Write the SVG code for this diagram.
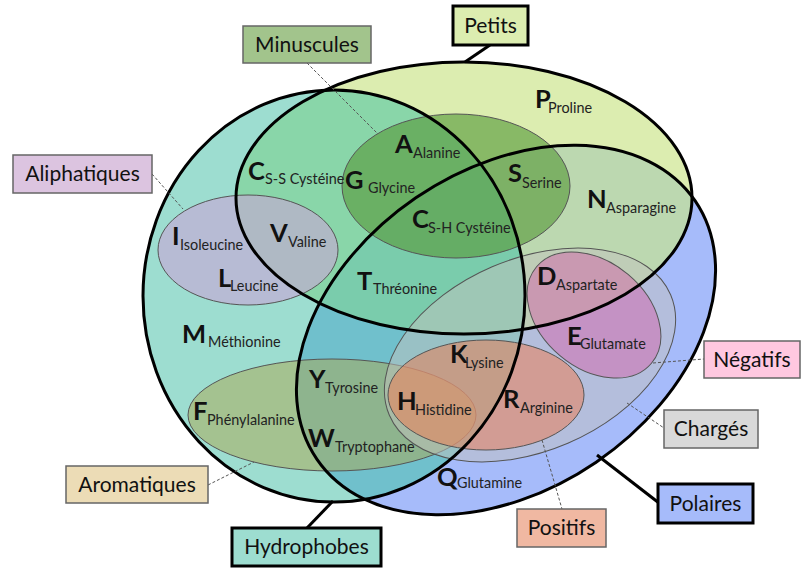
<svg xmlns="http://www.w3.org/2000/svg" width="801" height="568" viewBox="0 0 801 568">
<style>
.thick{fill:none;stroke:#000;stroke-width:3}
.thin{stroke:#555;stroke-width:1}
.big{font-family:Lato,"Liberation Sans",sans-serif;font-weight:bold;font-size:25.5px;fill:#111}
.sub{font-family:Lato,"Liberation Sans",sans-serif;font-size:14.4px;fill:#222}
.lbl{font-family:Lato,"Liberation Sans",sans-serif;font-size:21px;fill:#111;text-anchor:middle}
.box{stroke:#666;stroke-width:1.5}
.boxk{stroke:#000;stroke-width:3}
.dot{stroke:#555;stroke-width:1;stroke-dasharray:3 2;fill:none}
.solid{stroke:#000;stroke-width:3;fill:none}
</style>
<defs>
<clipPath id="cH"><ellipse cx="334" cy="296" rx="191" ry="206"/></clipPath>
<clipPath id="cP"><ellipse cx="464" cy="198" rx="228" ry="136"/></clipPath>
</defs>
<g id="fills">
<ellipse cx="334" cy="296" rx="191" ry="206" fill="#9DDDD0"/>
<ellipse cx="464" cy="198" rx="228" ry="136" fill="#DCEDB0"/>
<ellipse cx="0" cy="0" rx="229" ry="160" fill="#A6BBFA" transform="translate(506 330) rotate(-34.3)"/>
<ellipse cx="464" cy="198" rx="228" ry="136" fill="#89D6A9" clip-path="url(#cH)"/>
<g clip-path="url(#cH)"><ellipse cx="0" cy="0" rx="229" ry="160" fill="#70C0CC" transform="translate(506 330) rotate(-34.3)"/></g>
<g clip-path="url(#cP)"><ellipse cx="0" cy="0" rx="229" ry="160" fill="#BCD8B0" transform="translate(506 330) rotate(-34.3)"/></g>
<g clip-path="url(#cH)"><g clip-path="url(#cP)"><ellipse cx="0" cy="0" rx="229" ry="160" fill="#7ACCAC" transform="translate(506 330) rotate(-34.3)"/></g></g>
</g>
<g id="minuscules"><ellipse class="thin" cx="456" cy="186" rx="114" ry="72" fill="rgb(89,155,61)" fill-opacity="0.64"/></g>
<g id="aliphatiques"><ellipse class="thin" cx="248" cy="250" rx="90" ry="55" fill="rgb(200,165,215)" fill-opacity="0.6"/></g>
<g id="aromatiques"><ellipse class="thin" cx="332" cy="415" rx="144" ry="56" fill="rgb(171,167,80)" fill-opacity="0.5"/></g>
<g id="charges"><ellipse class="thin" cx="0" cy="0" rx="153" ry="96" fill="rgb(194,193,190)" fill-opacity="0.5" transform="translate(530 355) rotate(-23.2)"/></g>
<g id="negatifs"><ellipse class="thin" cx="0" cy="0" rx="75" ry="53" fill="rgb(212,102,172)" fill-opacity="0.5" transform="translate(594 315) rotate(40)"/></g>
<g id="positifs"><ellipse class="thin" cx="486" cy="395" rx="98" ry="55" fill="rgb(240,122,76)" fill-opacity="0.5"/></g>
<g id="outlines">
<ellipse class="thick" cx="334" cy="296" rx="191" ry="206"/>
<ellipse class="thick" cx="464" cy="198" rx="228" ry="136"/>
<ellipse class="thick" cx="0" cy="0" rx="229" ry="160" transform="translate(506 330) rotate(-34.3)"/>
</g>
<g id="amino-acids">
<text class="big" x="535" y="108">P</text><text class="sub" x="548" y="113">Proline</text>
<text class="big" x="395" y="153">A</text><text class="sub" x="413" y="158">Alanine</text>
<text class="big" x="345" y="189">G</text><text class="sub" x="368" y="193">Glycine</text>
<text class="big" x="508" y="182">S</text><text class="sub" x="522" y="188">Serine</text>
<text class="big" x="248" y="180">C</text><text class="sub" x="265" y="184">S-S Cystéine</text>
<text class="big" x="587" y="208">N</text><text class="sub" x="606" y="213">Asparagine</text>
<text class="big" x="412" y="228">C</text><text class="sub" x="428" y="233">S-H Cystéine</text>
<text class="big" x="172" y="245">I</text><text class="sub" x="180" y="250">Isoleucine</text>
<text class="big" x="270" y="242">V</text><text class="sub" x="288" y="247">Valine</text>
<text class="big" x="218" y="287">L</text><text class="sub" x="230" y="291">Leucine</text>
<text class="big" x="357" y="290">T</text><text class="sub" x="373" y="294">Thréonine</text>
<text class="big" x="537" y="285">D</text><text class="sub" x="556" y="290">Aspartate</text>
<text class="big" x="182" y="343">M</text><text class="sub" x="208" y="347">Méthionine</text>
<text class="big" x="567" y="345">E</text><text class="sub" x="580" y="349">Glutamate</text>
<text class="big" x="450" y="363">K</text><text class="sub" x="465" y="368">Lysine</text>
<text class="big" x="309" y="388">Y</text><text class="sub" x="325" y="393">Tyrosine</text>
<text class="big" x="397" y="410">H</text><text class="sub" x="415" y="415">Histidine</text>
<text class="big" x="503" y="408">R</text><text class="sub" x="520" y="413">Arginine</text>
<text class="big" x="193" y="420">F</text><text class="sub" x="207" y="425">Phénylalanine</text>
<text class="big" x="308" y="447">W</text><text class="sub" x="335" y="452">Tryptophane</text>
<text class="big" x="437" y="486">Q</text><text class="sub" x="457" y="488">Glutamine</text>
</g>
<g id="connectors">
<line class="solid" x1="490" y1="45" x2="465" y2="62"/>
<line class="dot" x1="307" y1="63" x2="378" y2="134"/>
<line class="dot" x1="152" y1="174" x2="183" y2="209"/>
<line class="dot" x1="208" y1="485" x2="254" y2="462"/>
<line class="solid" x1="333" y1="501" x2="307" y2="528"/>
<line class="dot" x1="542" y1="440" x2="562" y2="509"/>
<line class="solid" x1="597" y1="455" x2="659" y2="503"/>
<line class="dot" x1="627" y1="403" x2="664" y2="428"/>
<line class="dot" x1="653" y1="363" x2="704" y2="359"/>
</g>
<g id="label-petits"><rect class="boxk" x="453" y="6" width="75" height="39" fill="#DCEDB0"/><text class="lbl" x="490.5" y="33">Petits</text></g>
<g id="label-minuscules"><rect class="box" x="243" y="26" width="128" height="37" fill="#A2C48C"/><text class="lbl" x="307" y="51.5">Minuscules</text></g>
<g id="label-aliphatiques"><rect class="box" x="13" y="155" width="139" height="38" fill="#DCC4E0"/><text class="lbl" x="82.5" y="181">Aliphatiques</text></g>
<g id="label-aromatiques"><rect class="box" x="66" y="466" width="142" height="37" fill="#ECDCB6"/><text class="lbl" x="137" y="491.5">Aromatiques</text></g>
<g id="label-hydrophobes"><rect class="boxk" x="232" y="528" width="149" height="38" fill="#9DDDD0"/><text class="lbl" x="306.5" y="554">Hydrophobes</text></g>
<g id="label-positifs"><rect class="box" x="517" y="509" width="89" height="38" fill="#F0B8A2"/><text class="lbl" x="561.5" y="535">Positifs</text></g>
<g id="label-polaires"><rect class="boxk" x="658" y="484" width="95" height="39" fill="#A6BBFA"/><text class="lbl" x="705.5" y="510.5">Polaires</text></g>
<g id="label-charges"><rect class="box" x="664" y="410" width="94" height="38" fill="#D9D9D9"/><text class="lbl" x="711" y="436">Chargés</text></g>
<g id="label-negatifs"><rect class="box" x="704" y="341" width="96" height="37" fill="#FFC8E0"/><text class="lbl" x="752" y="366.5">Négatifs</text></g>
</svg>
